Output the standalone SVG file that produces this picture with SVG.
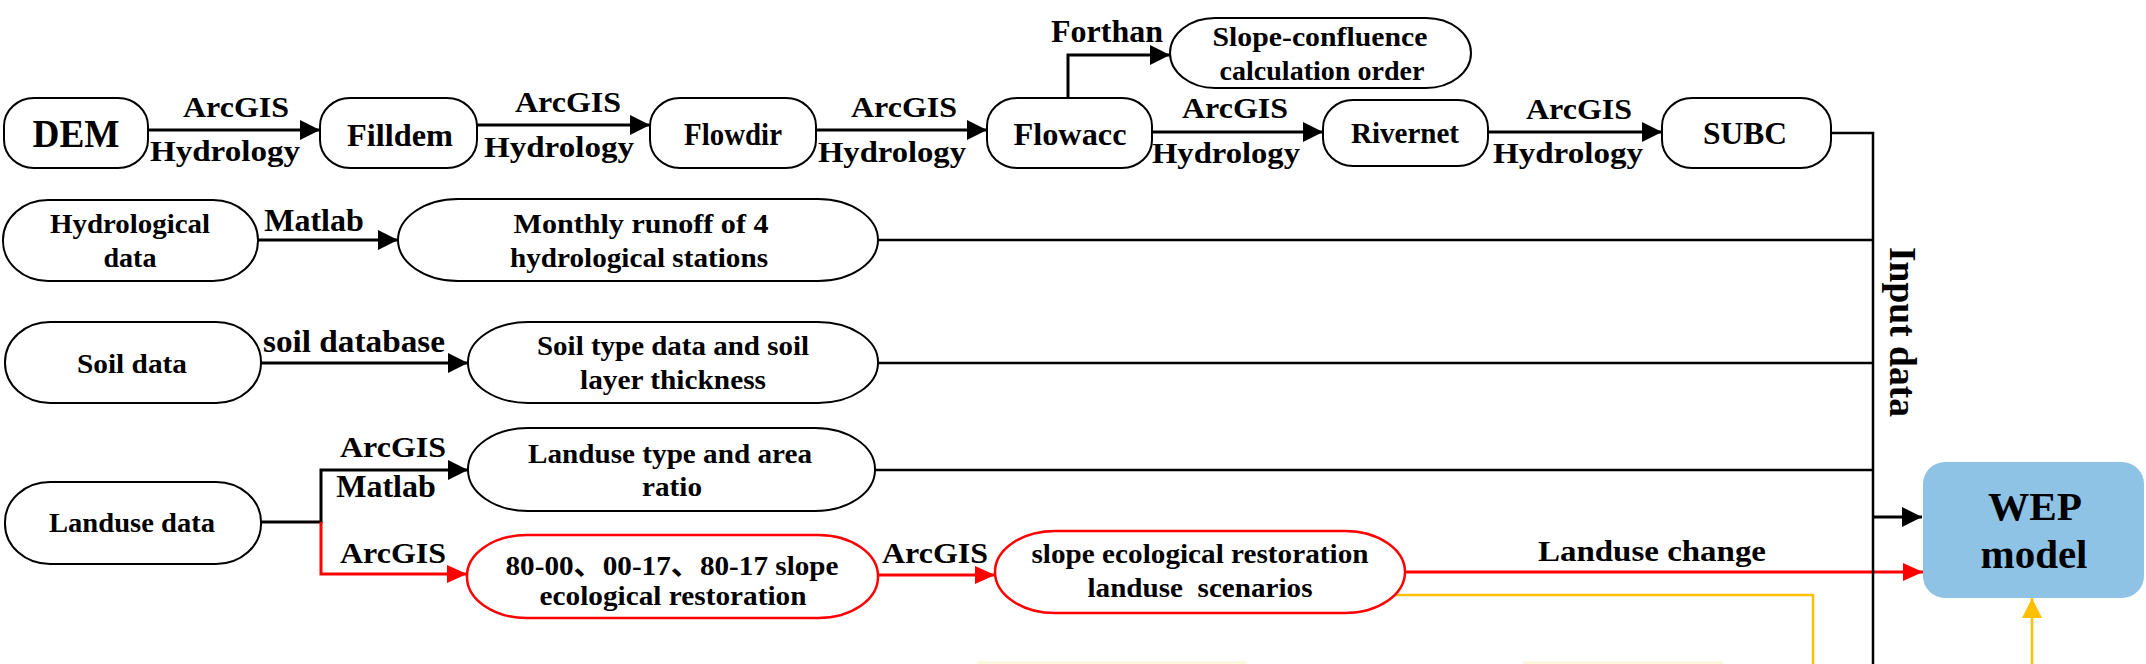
<svg xmlns="http://www.w3.org/2000/svg" width="2146" height="664" viewBox="0 0 2146 664">
<style>
.n{fill:#fff;stroke:#000;stroke-width:2}
.rn{fill:#fff;stroke:#f00;stroke-width:2.5}
.t{font-family:"Liberation Serif","Times New Roman","Noto Sans CJK SC",serif;font-weight:bold;fill:#000;text-anchor:middle}
.s30{font-size:30px}
.s31{font-size:31px}
.s32{font-size:32px}
.s28{font-size:28px}
.c{fill:none;stroke:#000;stroke-width:3}
.l{fill:none;stroke:#000;stroke-width:2.5}
.cr{fill:none;stroke:#f00;stroke-width:3}
.cy{fill:none;stroke:#FFC000;stroke-width:2.5}
</style>
<defs>
<marker id="ab" markerUnits="userSpaceOnUse" markerWidth="21" markerHeight="21" refX="20" refY="10" orient="auto"><path d="M0,0 L20,10 L0,20 z" fill="#000"/></marker>
<marker id="ar" markerUnits="userSpaceOnUse" markerWidth="21" markerHeight="21" refX="20" refY="9" orient="auto"><path d="M0,0 L20,9 L0,18 z" fill="#f00"/></marker>
<marker id="ay" markerUnits="userSpaceOnUse" markerWidth="21" markerHeight="21" refX="20" refY="10" orient="auto"><path d="M0,0 L20,10 L0,20 z" fill="#FFC000"/></marker>
</defs>
<rect width="2146" height="664" fill="#fff"/>

<g id="connectors">
<path class="c" d="M148,130 H320" marker-end="url(#ab)"/>
<path class="c" d="M477,125 H650" marker-end="url(#ab)"/>
<path class="c" d="M816,130 H987" marker-end="url(#ab)"/>
<path class="c" d="M1152,132 H1323" marker-end="url(#ab)"/>
<path class="c" d="M1488,132 H1662" marker-end="url(#ab)"/>
<path class="c" d="M1068,98 V55 H1170" marker-end="url(#ab)"/>
<path class="c" d="M258,240 H398" marker-end="url(#ab)"/>
<path class="c" d="M261,363 H468" marker-end="url(#ab)"/>
<path class="c" d="M261,522 H321 V470 H468" marker-end="url(#ab)"/>
<path class="cr" d="M321,522 V574 H467" marker-end="url(#ar)"/>
<path class="cr" d="M878,575 H995" marker-end="url(#ar)"/>
<path class="cr" d="M1405,572 H1923" marker-end="url(#ar)"/>
<path class="cy" d="M1395,595 H1813 V664"/>
<path class="cy" d="M2032,664 V598" marker-end="url(#ay)"/>
<path class="l" d="M878,240 H1873"/>
<path class="l" d="M878,363 H1873"/>
<path class="l" d="M875,470 H1873"/>
<path class="l" d="M1831,133 H1873 V664"/>
<path class="c" d="M1873,517 H1922" marker-end="url(#ab)"/>
<g class="t s30">
<text x="236" y="117" textLength="106" lengthAdjust="spacingAndGlyphs">ArcGIS</text>
<text x="225" y="161" textLength="150" lengthAdjust="spacingAndGlyphs">Hydrology</text>
<text x="568" y="112" textLength="106" lengthAdjust="spacingAndGlyphs">ArcGIS</text>
<text x="559" y="157" textLength="150" lengthAdjust="spacingAndGlyphs">Hydrology</text>
<text x="904" y="117" textLength="106" lengthAdjust="spacingAndGlyphs">ArcGIS</text>
<text x="892" y="162" textLength="148" lengthAdjust="spacingAndGlyphs">Hydrology</text>
<text x="1235" y="118" textLength="106" lengthAdjust="spacingAndGlyphs">ArcGIS</text>
<text x="1226" y="163" textLength="148" lengthAdjust="spacingAndGlyphs">Hydrology</text>
<text x="1579" y="119" textLength="106" lengthAdjust="spacingAndGlyphs">ArcGIS</text>
<text x="1568" y="163" textLength="150" lengthAdjust="spacingAndGlyphs">Hydrology</text>
<text class="s32" x="1107" y="42">Forthan</text>
<text class="s32" x="314" y="231">Matlab</text>
<text class="s32" x="354" y="352" textLength="182" lengthAdjust="spacingAndGlyphs">soil database</text>
<text x="393" y="457" textLength="106" lengthAdjust="spacingAndGlyphs">ArcGIS</text>
<text class="s32" x="386" y="497">Matlab</text>
<text x="393" y="563" textLength="106" lengthAdjust="spacingAndGlyphs">ArcGIS</text>
<text x="935" y="563" textLength="106" lengthAdjust="spacingAndGlyphs">ArcGIS</text>
<text x="1652" y="561" textLength="228" lengthAdjust="spacingAndGlyphs">Landuse change</text>
<text style="font-size:37px" x="1890" y="332" transform="rotate(90 1890 332)" textLength="170" lengthAdjust="spacingAndGlyphs">Input data</text>
</g>
</g>

<g id="n-dem"><rect class="n" x="4" y="98" width="144" height="70" rx="30" ry="28"/><text class="t" style="font-size:39px" x="76" y="147" textLength="87" lengthAdjust="spacingAndGlyphs">DEM</text></g>
<g id="n-filldem"><rect class="n" x="320" y="98" width="157" height="70" rx="30" ry="28"/><text class="t s31" x="400" y="146" textLength="106" lengthAdjust="spacingAndGlyphs">Filldem</text></g>
<g id="n-flowdir"><rect class="n" x="650" y="98" width="166" height="70" rx="30" ry="28"/><text class="t s31" x="733" y="145" textLength="98" lengthAdjust="spacingAndGlyphs">Flowdir</text></g>
<g id="n-flowacc"><rect class="n" x="987" y="98" width="165" height="70" rx="30" ry="28"/><text class="t s31" x="1070" y="145" textLength="113" lengthAdjust="spacingAndGlyphs">Flowacc</text></g>
<g id="n-rivernet"><rect class="n" x="1323" y="100" width="165" height="66" rx="30" ry="28"/><text class="t" style="font-size:29px" x="1405" y="143" textLength="108" lengthAdjust="spacingAndGlyphs">Rivernet</text></g>
<g id="n-subc"><rect class="n" x="1662" y="98" width="169" height="70" rx="30" ry="28"/><text class="t s31" x="1745" y="144" textLength="84" lengthAdjust="spacingAndGlyphs">SUBC</text></g>
<g id="n-slope-confluence"><rect class="n" x="1170" y="18" width="301" height="70" rx="45" ry="35"/><text class="t" style="font-size:27px" x="1320" y="46" textLength="215" lengthAdjust="spacingAndGlyphs">Slope-confluence</text><text class="t" style="font-size:27px" x="1322" y="80" textLength="205" lengthAdjust="spacingAndGlyphs">calculation order</text></g>

<g id="n-hydro-data"><rect class="n" x="3" y="200" width="255" height="81" rx="45" ry="40"/><text class="t s28" x="130" y="233" textLength="160" lengthAdjust="spacingAndGlyphs">Hydrological</text><text class="t s28" x="130" y="267" textLength="53" lengthAdjust="spacingAndGlyphs">data</text></g>
<g id="n-monthly"><rect class="n" x="398" y="199" width="480" height="82" rx="60" ry="41"/><text class="t s28" x="641" y="233" textLength="255" lengthAdjust="spacingAndGlyphs">Monthly runoff of 4</text><text class="t s28" x="639" y="267" textLength="258" lengthAdjust="spacingAndGlyphs">hydrological stations</text></g>
<g id="n-soil-data"><rect class="n" x="5" y="322" width="256" height="81" rx="45" ry="40"/><text class="t s28" x="132" y="373" textLength="110" lengthAdjust="spacingAndGlyphs">Soil data</text></g>
<g id="n-soil-type"><rect class="n" x="468" y="322" width="410" height="81" rx="60" ry="40"/><text class="t s28" x="673" y="355" textLength="272" lengthAdjust="spacingAndGlyphs">Soil type data and soil</text><text class="t s28" x="673" y="389" textLength="186" lengthAdjust="spacingAndGlyphs">layer thickness</text></g>
<g id="n-landuse-data"><rect class="n" x="5" y="482" width="256" height="82" rx="45" ry="40"/><text class="t s28" x="132" y="532" textLength="166" lengthAdjust="spacingAndGlyphs">Landuse data</text></g>
<g id="n-landuse-type"><rect class="n" x="468" y="428" width="407" height="83" rx="60" ry="41"/><text class="t s28" x="670" y="463" textLength="284" lengthAdjust="spacingAndGlyphs">Landuse type and area</text><text class="t s28" x="672" y="496" textLength="60" lengthAdjust="spacingAndGlyphs">ratio</text></g>
<g id="n-restoration"><rect class="rn" x="467" y="535" width="411" height="83" rx="60" ry="41"/><text class="t s28" x="672" y="575" textLength="333" lengthAdjust="spacingAndGlyphs">80-00、00-17、80-17 slope</text><text class="t s28" x="673" y="605" textLength="267" lengthAdjust="spacingAndGlyphs">ecological restoration</text></g>
<g id="n-scenarios"><rect class="rn" x="995" y="531" width="410" height="82" rx="60" ry="41"/><text class="t s28" x="1200" y="563" textLength="337" lengthAdjust="spacingAndGlyphs">slope ecological restoration</text><text class="t s28" x="1200" y="597" textLength="225" lengthAdjust="spacingAndGlyphs" xml:space="preserve">landuse  scenarios</text></g>
<g id="n-wep"><rect x="1923" y="462" width="221" height="136" rx="22" ry="22" fill="#8EC3E6"/><text class="t" style="font-size:41px" x="2035" y="520" textLength="94" lengthAdjust="spacingAndGlyphs">WEP</text><text class="t" style="font-size:41px" x="2034" y="568" textLength="107" lengthAdjust="spacingAndGlyphs">model</text></g>

<g id="cut-edges" fill="#fdf9df">
<rect x="977" y="661" width="270" height="3"/>
<rect x="1523" y="661" width="200" height="3"/>
</g>
</svg>
